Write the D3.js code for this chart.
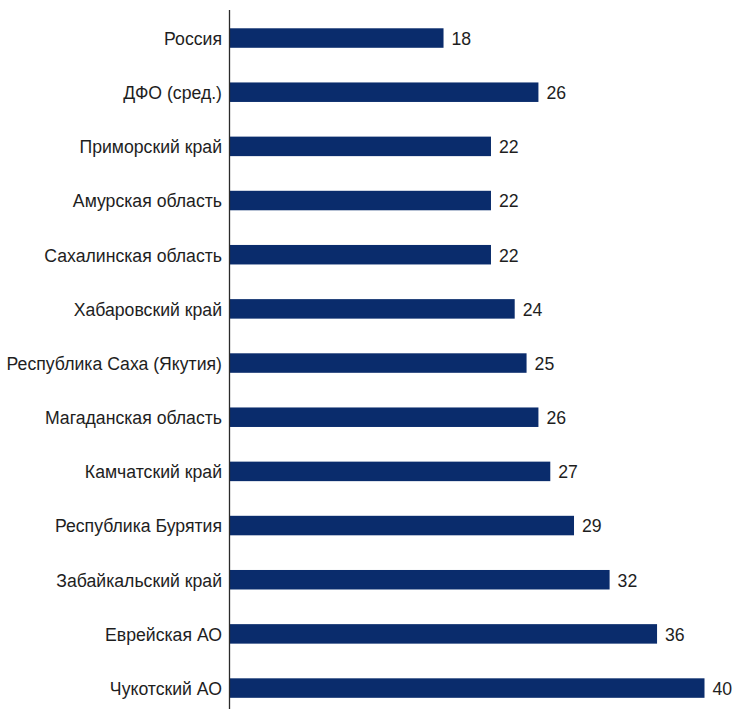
<!DOCTYPE html>
<html>
<head>
<meta charset="utf-8">
<script src="https://cdn.jsdelivr.net/npm/d3@7"></script>
<style>
  html, body { margin: 0; padding: 0; background: #fff; }
  svg { display: block; }
  text { font-family: "Liberation Sans", Arial, sans-serif; fill: #1e1e1e; }
</style>
</head>
<body>
<div id="chart"></div>
<script>
// Regions, top to bottom
const regions = [
  "Россия",
  "ДФО (сред.)",
  "Приморский край",
  "Амурская область",
  "Сахалинская область",
  "Хабаровский край",
  "Республика Саха (Якутия)",
  "Магаданская область",
  "Камчатский край",
  "Республика Бурятия",
  "Забайкальский край",
  "Еврейская АО",
  "Чукотский АО"
];

// Value for each region
const values = [18, 26, 22, 22, 22, 24, 25, 26, 27, 29, 32, 36, 40];

const W = 736, H = 709;
const axisX = 230;
const fontSize = 19;
const squeeze = 0.93; // slightly condensed lettering

const svg = d3.select("#chart").append("svg")
  .attr("width", W).attr("height", H);

const x = d3.scaleLinear()
  .domain([0, 40])
  .range([axisX, 704.5]);

const y = d3.scaleBand()
  .domain(regions)
  .range([1.2, 724.9])
  .paddingInner(0.64)
  .paddingOuter(0.5);

const rows = regions.map((r, i) => ({ region: r, value: values[i] }));
const mid = d => y(d.region) + y.bandwidth() / 2;

// Bars
svg.append("g")
  .selectAll("rect")
  .data(rows)
  .join("rect")
  .attr("x", x(0))
  .attr("y", d => y(d.region))
  .attr("width", d => x(d.value) - x(0))
  .attr("height", y.bandwidth())
  .attr("fill", "#0a2c6c");

// Value labels
svg.append("g")
  .selectAll("text")
  .data(rows)
  .join("text")
  .attr("transform", d => `translate(${x(d.value) + 8},${mid(d)}) scale(${squeeze},1)`)
  .attr("dy", "0.36em")
  .attr("font-size", fontSize)
  .text(d => d.value);

// Category labels
svg.append("g")
  .selectAll("text")
  .data(rows)
  .join("text")
  .attr("transform", d => `translate(${axisX - 8},${mid(d)}) scale(${squeeze},1)`)
  .attr("dy", "0.36em")
  .attr("text-anchor", "end")
  .attr("font-size", fontSize)
  .text(d => d.region);

// Vertical category axis line
svg.append("line")
  .attr("x1", axisX - 0.5).attr("x2", axisX - 0.5)
  .attr("y1", 10).attr("y2", H)
  .attr("stroke", "#2b2b2b")
  .attr("stroke-width", 1.3);
</script>
</body>
</html>
